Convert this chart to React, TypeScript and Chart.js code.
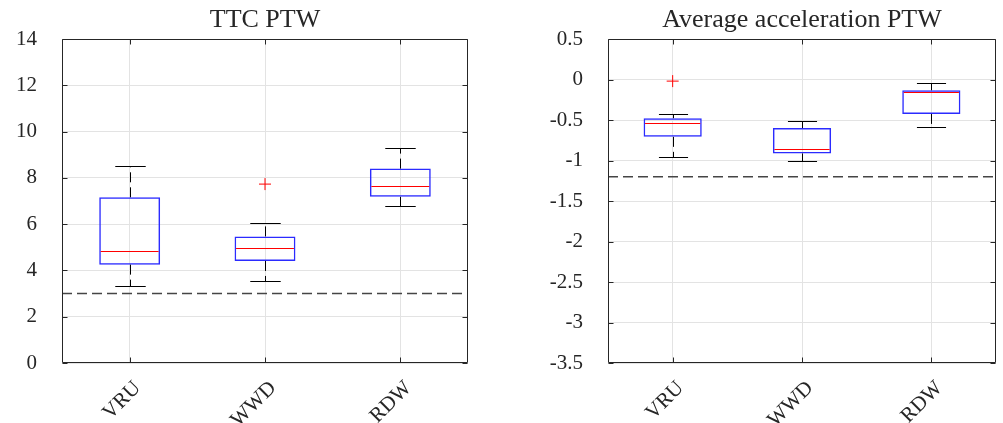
import React, { useEffect, useRef } from "react";
import { Chart, registerables } from "chart.js";

Chart.register(...registerables);

// ---------- data ----------
const categories = ["VRU", "WWD", "RDW"];

const ttcLowerWhisker = [3.32, 3.53, 6.8];
const ttcQ1 = [4.25, 4.41, 7.18];
const ttcMedian = [4.86, 4.99, 7.66];
const ttcQ3 = [7.16, 5.47, 8.4];
const ttcUpperWhisker = [8.5, 6.06, 9.3];
const ttcOutliers = [null, 7.73, null];
const ttcThreshold = 3;
const ttcTicks = [0, 2, 4, 6, 8, 10, 12, 14];

const accLowerWhisker = [-0.962, -1.0, -0.589];
const accQ1 = [-0.708, -0.913, -0.425];
const accMedian = [-0.54, -0.86, -0.153];
const accQ3 = [-0.478, -0.6, -0.133];
const accUpperWhisker = [-0.428, -0.51, -0.042];
const accOutliers = [-0.02, null, null];
const accThreshold = -1.2;
const accTicks = [-3.5, -3, -2.5, -2, -1.5, -1, -0.5, 0, 0.5];

// ---------- styling ----------
const FONT = "'Liberation Serif', 'Times New Roman', serif";
const TEXT = "#262626";
const GRID = "#e3e3e3";

type Stats = {
  low: number[];
  q1: number[];
  med: number[];
  q3: number[];
  high: number[];
  threshold: number;
};

const crisp = (v: number) => Math.round(v) + 0.5;

function makePlugin(stats: Stats) {
  return {
    id: "boxExtras",
    afterDatasetsDraw(chart: any) {
      const ctx = chart.ctx;
      const y = chart.scales.y;
      const meta = chart.getDatasetMeta(0);
      const area = chart.chartArea;
      ctx.save();
      meta.data.forEach((bar: any, i: number) => {
        const cx = crisp(bar.x);
        const w = bar.width;
        const yLow = crisp(y.getPixelForValue(stats.low[i]));
        const yQ1 = y.getPixelForValue(stats.q1[i]);
        const yQ3 = y.getPixelForValue(stats.q3[i]);
        const yHigh = crisp(y.getPixelForValue(stats.high[i]));
        const yMed = crisp(y.getPixelForValue(stats.med[i]));
        // dashed whiskers
        ctx.strokeStyle = "#000000";
        ctx.lineWidth = 1;
        ctx.setLineDash([10, 5]);
        ctx.beginPath();
        ctx.moveTo(cx, yQ3);
        ctx.lineTo(cx, yHigh);
        ctx.moveTo(cx, yQ1);
        ctx.lineTo(cx, yLow);
        ctx.stroke();
        // caps
        ctx.setLineDash([]);
        ctx.beginPath();
        ctx.moveTo(cx - w / 4, yHigh);
        ctx.lineTo(cx + w / 4, yHigh);
        ctx.moveTo(cx - w / 4, yLow);
        ctx.lineTo(cx + w / 4, yLow);
        ctx.stroke();
        // median
        ctx.strokeStyle = "#ff0000";
        ctx.beginPath();
        ctx.moveTo(bar.x - w / 2 + 1.5, yMed);
        ctx.lineTo(bar.x + w / 2 - 1.5, yMed);
        ctx.stroke();
      });
      // threshold
      const yT = y.getPixelForValue(stats.threshold);
      ctx.strokeStyle = "#454545";
      ctx.lineWidth = 1.5;
      ctx.setLineDash([10, 5]);
      ctx.beginPath();
      ctx.moveTo(area.left, yT);
      ctx.lineTo(area.right, yT);
      ctx.stroke();
      ctx.restore();
    },
    afterDraw(chart: any) {
      const ctx = chart.ctx;
      const { left, right, top, bottom } = chart.chartArea;
      const x = chart.scales.x;
      const y = chart.scales.y;
      ctx.save();
      ctx.strokeStyle = TEXT;
      ctx.lineWidth = 1;
      ctx.setLineDash([]);
      const L = Math.round(left) + 0.5;
      const R = Math.round(right) - 0.5;
      const T = Math.round(top) + 0.5;
      const B = Math.round(bottom) - 0.5;
      ctx.beginPath();
      ctx.rect(L, T, R - L, B - T);
      ctx.stroke();
      const tl = 5;
      ctx.beginPath();
      y.ticks.forEach((_: any, i: number) => {
        const py = Math.round(y.getPixelForTick(i)) + 0.5;
        ctx.moveTo(L, py);
        ctx.lineTo(L + tl, py);
        ctx.moveTo(R, py);
        ctx.lineTo(R - tl, py);
      });
      x.ticks.forEach((_: any, i: number) => {
        const px = Math.round(x.getPixelForValue(i)) + 0.5;
        ctx.moveTo(px, B);
        ctx.lineTo(px, B - tl);
        ctx.moveTo(px, T);
        ctx.lineTo(px, T + tl);
      });
      ctx.stroke();
      ctx.restore();
    },
  };
}

type PanelProps = {
  title: string;
  stats: Stats;
  outliers: (number | null)[];
  ticks: number[];
  width: number;
  left: number;
  yAxisWidth: number;
  rightPad: number;
};

function Panel(props: PanelProps) {
  const ref = useRef<HTMLCanvasElement | null>(null);
  useEffect(() => {
    if (!ref.current) return;
    const { stats, ticks } = props;
    const chart = new Chart(ref.current, {
      type: "bar",
      data: {
        labels: categories,
        datasets: [
          {
            type: "bar",
            data: categories.map((_, i) => [stats.q1[i], stats.q3[i]]) as any,
            backgroundColor: "rgba(0,0,0,0)",
            borderColor: "#2b2bff",
            borderWidth: 1.5,
            borderSkipped: false,
            barPercentage: 0.45,
            categoryPercentage: 1,
          } as any,
          {
            type: "line",
            data: props.outliers as any,
            showLine: false,
            pointStyle: "cross",
            pointRadius: 6,
            pointBorderWidth: 1,
            borderColor: "#ff0000",
            pointBorderColor: "#ff0000",
            backgroundColor: "#ff0000",
          } as any,
        ],
      },
      options: {
        responsive: false,
        animation: false,
        devicePixelRatio: 1,
        layout: { padding: { left: 0, right: props.rightPad, top: 0, bottom: 0 } },
        plugins: {
          legend: { display: false },
          tooltip: { enabled: false },
          title: {
            display: true,
            text: props.title,
            color: TEXT,
            font: { family: FONT, size: 26, weight: "normal" as any, lineHeight: 1.2 },
            padding: { top: 4.5, bottom: 3.3 },
            fullSize: false,
          },
        },
        scales: {
          x: {
            type: "category",
            offset: true,
            grid: { offset: false, color: GRID, drawTicks: false },
            border: { display: false },
            ticks: {
              color: TEXT,
              font: { family: FONT, size: 21 },
              minRotation: 45,
              maxRotation: 45,
              padding: 13,
              labelOffset: 8,
              autoSkip: false,
            },
            afterFit: (s: any) => {
              s.height = 60;
            },
          },
          y: {
            type: "linear",
            min: ticks[0],
            max: ticks[ticks.length - 1],
            grid: { color: GRID, drawTicks: false },
            border: { display: false },
            afterBuildTicks: (s: any) => {
              s.ticks = ticks.map((v) => ({ value: v }));
            },
            ticks: {
              color: TEXT,
              font: { family: FONT, size: 21 },
              padding: 25,
              callback: (v: any) => String(Math.round(Number(v) * 10) / 10),
            },
            afterFit: (s: any) => {
              s.width = props.yAxisWidth;
            },
          },
        },
      },
      plugins: [makePlugin(stats)],
    });
    return () => chart.destroy();
  }, []);
  return (
    <canvas
      ref={ref}
      width={props.width}
      height={423}
      style={{ position: "absolute", left: props.left, top: 0, width: props.width, height: 423 }}
    />
  );
}

export default function App() {
  return (
    <div
      style={{
        position: "fixed",
        left: 0,
        top: 0,
        width: 1003,
        height: 423,
        background: "#ffffff",
        overflow: "hidden",
      }}
    >
      <Panel
        title="TTC PTW"
        stats={{
          low: ttcLowerWhisker,
          q1: ttcQ1,
          med: ttcMedian,
          q3: ttcQ3,
          high: ttcUpperWhisker,
          threshold: ttcThreshold,
        }}
        outliers={ttcOutliers}
        ticks={ttcTicks}
        width={500}
        left={0}
        yAxisWidth={62}
        rightPad={32}
      />
      <Panel
        title="Average acceleration PTW"
        stats={{
          low: accLowerWhisker,
          q1: accQ1,
          med: accMedian,
          q3: accQ3,
          high: accUpperWhisker,
          threshold: accThreshold,
        }}
        outliers={accOutliers}
        ticks={accTicks}
        width={503}
        left={500}
        yAxisWidth={108}
        rightPad={1}
      />
    </div>
  );
}
